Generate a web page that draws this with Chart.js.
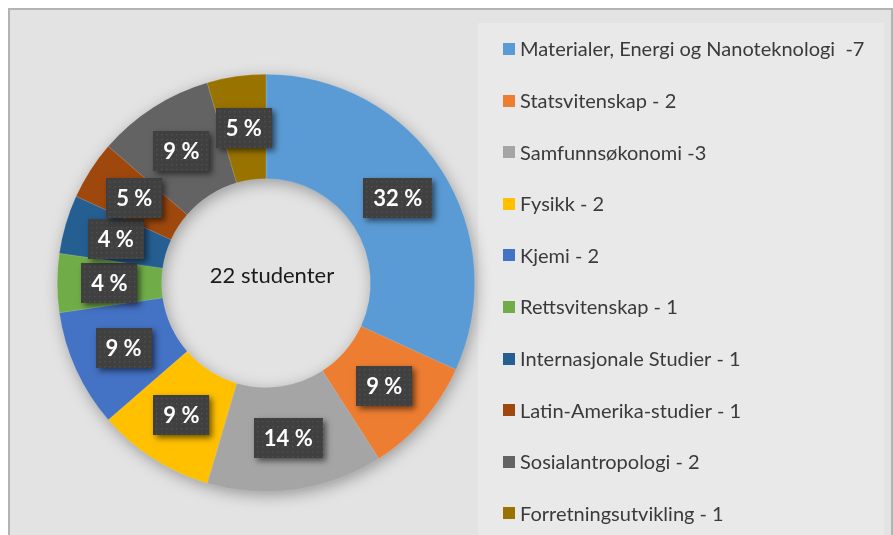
<!DOCTYPE html>
<html>
<head>
<meta charset="utf-8">
<script src="https://cdn.jsdelivr.net/npm/chart.js@4.4.1/dist/chart.umd.min.js"></script>
<style>
  html, body { margin: 0; padding: 0; background: #ffffff; }
  #wrap { position: relative; width: 893px; height: 535px; }
</style>
</head>
<body>
<div id="wrap"><canvas id="c" width="893" height="535"></canvas></div>
<script>
// ---- data ----
const categories = [
  'Materialer, Energi og Nanoteknologi  -7',
  'Statsvitenskap - 2',
  'Samfunnsøkonomi -3',
  'Fysikk - 2',
  'Kjemi - 2',
  'Rettsvitenskap - 1',
  'Internasjonale Studier - 1',
  'Latin-Amerika-studier - 1',
  'Sosialantropologi - 2',
  'Forretningsutvikling - 1'
];
const studentCounts = [7, 2, 3, 2, 2, 1, 1, 1, 2, 1];
const percentLabels = ['32 %', '9 %', '14 %', '9 %', '9 %', '4 %', '4 %', '5 %', '9 %', '5 %'];
const sliceColors = ['#5B9BD5', '#ED7D31', '#A5A5A5', '#FFC000', '#4472C4',
                     '#70AD47', '#255E91', '#9E480E', '#636363', '#997300'];
const centerText = '22 studenter';

// ---- plugins ----
const backgroundPlugin = {
  id: 'bg',
  beforeDraw(chart) {
    const ctx = chart.ctx;
    ctx.save();
    ctx.fillStyle = '#ffffff';
    ctx.fillRect(0, 0, chart.width, chart.height);
    ctx.fillStyle = '#b3b3b3';
    ctx.fillRect(8, 8, chart.width - 8, chart.height - 8);
    ctx.fillStyle = '#e3e3e3';
    ctx.fillRect(10, 10, chart.width - 12, chart.height - 10);
    ctx.fillStyle = '#e9e9e9';
    ctx.fillRect(478, 23, 406, chart.height - 23);
    ctx.restore();
  }
};

const ringShadowPlugin = {
  id: 'ringShadow',
  beforeDatasetsDraw(chart) {
    const meta = chart.getDatasetMeta(0);
    if (!meta.data.length) return;
    const a = meta.data[0];
    const ctx = chart.ctx;
    ctx.save();
    ctx.shadowColor = 'rgba(0,0,0,0.35)';
    ctx.shadowBlur = 16;
    ctx.shadowOffsetX = 2;
    ctx.shadowOffsetY = 4;
    ctx.fillStyle = '#8a8a8a';
    ctx.beginPath();
    ctx.arc(a.x, a.y, a.outerRadius - 1, 0, Math.PI * 2);
    ctx.arc(a.x, a.y, a.innerRadius + 1, 0, Math.PI * 2, true);
    ctx.fill('evenodd');
    ctx.restore();
  }
};

const labelPlugin = {
  id: 'pctLabels',
  afterDatasetsDraw(chart) {
    const meta = chart.getDatasetMeta(0);
    const ctx = chart.ctx;
    ctx.save();
    ctx.font = 'bold 22px Lato, "Open Sans", sans-serif';
    ctx.textAlign = 'center';
    ctx.textBaseline = 'middle';
    meta.data.forEach((arc, i) => {
      const p = arc.tooltipPosition();
      const txt = percentLabels[i];
      const w = ctx.measureText(txt).width + 20;
      const h = 40;
      const x = Math.round(p.x - w / 2), y = Math.round(p.y - h / 2);
      ctx.save();
      ctx.shadowColor = 'rgba(0,0,0,0.55)';
      ctx.shadowBlur = 6;
      ctx.shadowOffsetX = 3;
      ctx.shadowOffsetY = 3;
      ctx.fillStyle = '#404040';
      ctx.fillRect(x, y, w, h);
      ctx.restore();
      // subtle dotted pattern
      ctx.fillStyle = 'rgba(255,255,255,0.08)';
      for (let dx = 3; dx < w; dx += 5) {
        for (let dy = 3; dy < h; dy += 5) {
          ctx.fillRect(x + dx, y + dy, 1.5, 1.5);
        }
      }
      ctx.fillStyle = '#ffffff';
      ctx.fillText(txt, p.x, p.y + 1);
    });
    ctx.restore();
  }
};

const centerPlugin = {
  id: 'centerText',
  afterDraw(chart) {
    const meta = chart.getDatasetMeta(0);
    if (!meta.data.length) return;
    const a = meta.data[0];
    const ctx = chart.ctx;
    ctx.save();
    ctx.font = '22px Lato, "Open Sans", sans-serif';
    ctx.fillStyle = '#1a1a1a';
    ctx.textAlign = 'center';
    ctx.textBaseline = 'middle';
    ctx.fillText(centerText, a.x + 6, a.y - 7);
    ctx.restore();
  }
};

const legendPlugin = {
  id: 'sideLegend',
  afterDraw(chart) {
    const ctx = chart.ctx;
    const labels = chart.data.labels;
    const colors = chart.data.datasets[0].backgroundColor;
    ctx.save();
    ctx.font = '20px Lato, "Open Sans", sans-serif';
    ctx.textBaseline = 'middle';
    ctx.textAlign = 'left';
    labels.forEach((lbl, i) => {
      const cy = 49 + i * 51.6;
      ctx.fillStyle = colors[i];
      ctx.fillRect(503, Math.round(cy - 6), 12, 12);
      ctx.fillStyle = '#3a3a3a';
      ctx.fillText(lbl, 520, cy + 1);
    });
    ctx.restore();
  }
};

new Chart(document.getElementById('c'), {
  type: 'doughnut',
  data: {
    labels: categories,
    datasets: [{
      data: studentCounts,
      backgroundColor: sliceColors,
      borderColor: 'rgba(255,255,255,0.25)',
      borderWidth: 0.5
    }]
  },
  options: {
    responsive: false,
    animation: false,
    cutout: '50%',
    layout: { padding: { left: 57, top: 74, right: 418, bottom: 43 } },
    plugins: {
      legend: { display: false },
      tooltip: { enabled: false },
      title: { display: false }
    },
    events: []
  },
  plugins: [backgroundPlugin, ringShadowPlugin, labelPlugin, centerPlugin, legendPlugin]
});
</script>
</body>
</html>
